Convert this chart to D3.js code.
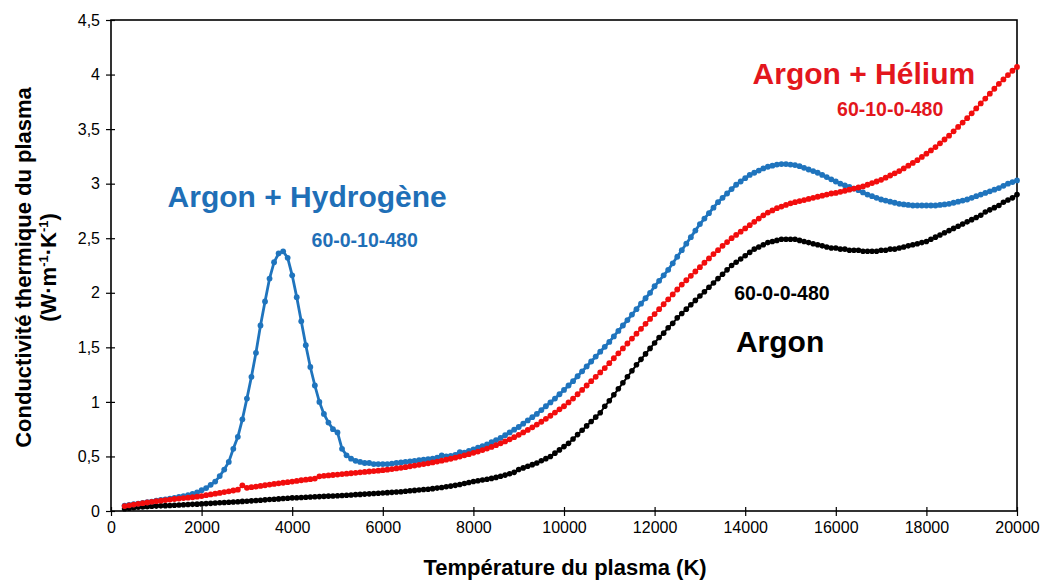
<!DOCTYPE html>
<html>
<head>
<meta charset="utf-8">
<script src="https://cdn.jsdelivr.net/npm/d3@7"></script>
<style>
  body { margin: 0; background: #fff; }
  svg text { font-family: "Liberation Sans", Arial, sans-serif; }
</style>
</head>
<body>
<svg id="chart" width="1045" height="584"></svg>
<script>
// temperature grid of the calculation (K), one point every 100 K
const tempStart = 300;
const tempStep = 100;

// Argon, 60-0-0-480
const argon = [
  0.020, 0.025, 0.030, 0.034, 0.037, 0.040, 0.043,
  0.045, 0.047, 0.049, 0.051, 0.053, 0.055, 0.057, 0.059, 0.061, 0.063,
  0.065, 0.068, 0.070, 0.073, 0.075, 0.078, 0.080, 0.083, 0.085, 0.088,
  0.090, 0.093, 0.096, 0.099, 0.102, 0.105, 0.108, 0.111, 0.114, 0.117,
  0.120, 0.122, 0.124, 0.126, 0.128, 0.130, 0.132, 0.134, 0.136, 0.138,
  0.140, 0.142, 0.145, 0.147, 0.150, 0.152, 0.155, 0.157, 0.160, 0.162,
  0.165, 0.168, 0.171, 0.174, 0.177, 0.181, 0.185, 0.189, 0.193, 0.197,
  0.200, 0.205, 0.210, 0.216, 0.222, 0.228, 0.235, 0.243, 0.252, 0.261,
  0.270, 0.277, 0.284, 0.291, 0.299, 0.308, 0.318, 0.329, 0.341, 0.354,
  0.380, 0.395, 0.410, 0.425, 0.440, 0.460, 0.480, 0.500, 0.530, 0.560,
  0.590, 0.620, 0.660, 0.700, 0.740, 0.780, 0.820, 0.860, 0.900, 0.960,
  1.010, 1.065, 1.120, 1.175, 1.230, 1.285, 1.340, 1.390, 1.440, 1.490,
  1.540, 1.590, 1.630, 1.680, 1.720, 1.770, 1.810, 1.850, 1.890, 1.930,
  1.970, 2.010, 2.050, 2.090, 2.130, 2.170, 2.210, 2.250, 2.280, 2.310,
  2.340, 2.370, 2.400, 2.420, 2.440, 2.460, 2.470, 2.480, 2.490, 2.490,
  2.490, 2.490, 2.480, 2.470, 2.460, 2.450, 2.440, 2.430, 2.420, 2.410,
  2.410, 2.400, 2.400, 2.390, 2.390, 2.390, 2.380, 2.380, 2.380, 2.380,
  2.390, 2.390, 2.400, 2.400, 2.410, 2.420, 2.430, 2.440, 2.450, 2.460,
  2.470, 2.490, 2.510, 2.530, 2.550, 2.570, 2.590, 2.610, 2.630, 2.650,
  2.670, 2.690, 2.710, 2.740, 2.760, 2.780, 2.800, 2.830, 2.850, 2.870,
  2.900
];

// Argon + Helium, 60-10-0-480
const argonHelium = [
  0.045, 0.052, 0.059, 0.066, 0.072, 0.078, 0.084,
  0.090, 0.095, 0.100, 0.105, 0.110, 0.114, 0.118, 0.122, 0.126, 0.131,
  0.137, 0.145, 0.152, 0.159, 0.166, 0.173, 0.180, 0.188, 0.195, 0.235,
  0.212, 0.218, 0.224, 0.230, 0.236, 0.242, 0.248, 0.254, 0.259, 0.264,
  0.270, 0.276, 0.282, 0.287, 0.292, 0.297, 0.318, 0.322, 0.326, 0.330,
  0.334, 0.338, 0.342, 0.346, 0.350, 0.354, 0.358, 0.362, 0.366, 0.370,
  0.374, 0.379, 0.384, 0.390, 0.396, 0.402, 0.409, 0.416, 0.423, 0.430,
  0.437, 0.445, 0.453, 0.461, 0.470, 0.479, 0.489, 0.499, 0.510, 0.521,
  0.533, 0.545, 0.558, 0.572, 0.587, 0.603, 0.620, 0.638, 0.657, 0.677,
  0.698, 0.720, 0.743, 0.767, 0.792, 0.818, 0.845, 0.873, 0.902, 0.932,
  0.960, 0.995, 1.030, 1.070, 1.110, 1.150, 1.190, 1.230, 1.270, 1.310,
  1.355, 1.400, 1.445, 1.490, 1.535, 1.580, 1.625, 1.670, 1.715, 1.760,
  1.805, 1.850, 1.895, 1.940, 1.985, 2.030, 2.075, 2.115, 2.155, 2.195,
  2.235, 2.275, 2.315, 2.355, 2.390, 2.430, 2.465, 2.500, 2.530, 2.560,
  2.590, 2.620, 2.650, 2.680, 2.710, 2.735, 2.755, 2.775, 2.790, 2.805,
  2.820, 2.830, 2.840, 2.850, 2.860, 2.870, 2.880, 2.890, 2.900, 2.910,
  2.915, 2.925, 2.935, 2.945, 2.955, 2.965, 2.975, 2.990, 3.005, 3.020,
  3.035, 3.055, 3.075, 3.095, 3.115, 3.140, 3.165, 3.190, 3.215, 3.245,
  3.275, 3.305, 3.335, 3.370, 3.405, 3.440, 3.480, 3.520, 3.560, 3.600,
  3.645, 3.690, 3.735, 3.780, 3.825, 3.870, 3.915, 3.955, 3.995, 4.035,
  4.070
];

// Argon + Hydrogen, 60-0-10-480
const argonHydrogen = [
  0.050, 0.056, 0.062, 0.068, 0.074, 0.080, 0.086,
  0.095, 0.101, 0.107, 0.114, 0.121, 0.129, 0.137, 0.146, 0.156, 0.170,
  0.190, 0.210, 0.240, 0.270, 0.320, 0.380, 0.450, 0.570, 0.680, 0.840,
  1.030, 1.230, 1.450, 1.700, 1.920, 2.130, 2.280, 2.360, 2.380, 2.320,
  2.160, 1.960, 1.740, 1.520, 1.320, 1.150, 1.000, 0.890, 0.810, 0.750,
  0.720, 0.570, 0.510, 0.480, 0.460, 0.450, 0.440, 0.440, 0.430, 0.430,
  0.430, 0.430, 0.435, 0.440, 0.445, 0.450, 0.455, 0.460, 0.465, 0.470,
  0.475, 0.480, 0.490, 0.510, 0.500, 0.505, 0.515, 0.540, 0.535, 0.550,
  0.565, 0.580, 0.595, 0.610, 0.630, 0.650, 0.670, 0.695, 0.720, 0.745,
  0.770, 0.800, 0.830, 0.860, 0.890, 0.925, 0.960, 0.995, 1.030, 1.070,
  1.110, 1.150, 1.190, 1.235, 1.280, 1.325, 1.370, 1.415, 1.460, 1.505,
  1.550, 1.600, 1.650, 1.700, 1.750, 1.800, 1.850, 1.900, 1.950, 2.000,
  2.060, 2.110, 2.160, 2.210, 2.270, 2.330, 2.390, 2.450, 2.510, 2.570,
  2.630, 2.680, 2.730, 2.780, 2.830, 2.870, 2.910, 2.950, 2.990, 3.020,
  3.050, 3.080, 3.100, 3.120, 3.140, 3.155, 3.165, 3.175, 3.180, 3.180,
  3.175, 3.170, 3.160, 3.145, 3.130, 3.115, 3.100, 3.080, 3.060, 3.040,
  3.020, 3.000, 2.985, 2.970, 2.955, 2.940, 2.920, 2.900, 2.885, 2.870,
  2.855, 2.845, 2.835, 2.825, 2.815, 2.810, 2.805, 2.800, 2.800, 2.800,
  2.800, 2.800, 2.800, 2.805, 2.810, 2.815, 2.825, 2.835, 2.845, 2.855,
  2.870, 2.885, 2.900, 2.915, 2.930, 2.945, 2.960, 2.980, 3.000, 3.015,
  3.030
];

const xTicks = [0, 2000, 4000, 6000, 8000, 10000, 12000, 14000, 16000, 18000, 20000];
const yTicks = [0, 0.5, 1, 1.5, 2, 2.5, 3, 3.5, 4, 4.5];

const width = 1045, height = 584;
const margin = { top: 20, right: 28, bottom: 73, left: 111 };
const innerW = width - margin.left - margin.right;
const innerH = height - margin.top - margin.bottom;

const frLocale = d3.formatLocale({ decimal: ",", thousands: "", grouping: [3], currency: ["", " €"] });
const fmtY = frLocale.format("~g");

const svg = d3.select("#chart");
const chart = svg.append("g")
  .attr("transform", "translate(" + margin.left + "," + margin.top + ")");

const x = d3.scaleLinear().domain([0, 20000]).range([0, innerW]);
const y = d3.scaleLinear().domain([0, 4.5]).range([innerH, 0]);

const toPoints = function(vals) {
  return vals.map((v, i) => ({ t: tempStart + i * tempStep, v: v }));
};

const series = [
  { key: "hydrogen", vals: argonHydrogen, color: "#1f74bd", lineW: 2.8, r: 2.9, line: true },
  { key: "helium", vals: argonHelium, color: "#f20d0d", lineW: 1.5, r: 2.9, line: true },
  { key: "argon", vals: argon, color: "#000000", lineW: 2, r: 2.8, line: true }
];

// frame
chart.append("rect")
  .attr("width", innerW)
  .attr("height", innerH)
  .attr("fill", "none")
  .attr("stroke", "#000")
  .attr("stroke-width", 1.6);

const line = d3.line()
  .x(d => x(d.t))
  .y(d => y(d.v));

// draw order: argon first, then hydrogen, helium on top where they touch
["argon", "hydrogen", "helium"].forEach(function(k) {
  const s = series.find(d => d.key === k);
  const pts = toPoints(s.vals);
  const g = chart.append("g").attr("class", "series-" + k);
  if (s.line) {
    g.append("path")
      .attr("d", line(pts))
      .attr("fill", "none")
      .attr("stroke", s.color)
      .attr("stroke-width", s.lineW);
  }
  g.selectAll("circle")
    .data(pts)
    .enter()
    .append("circle")
    .attr("cx", d => x(d.t))
    .attr("cy", d => y(d.v))
    .attr("r", s.r)
    .attr("fill", s.color);
});

// axes
const yAxis = chart.append("g")
  .attr("class", "yaxis")
  .call(d3.axisLeft(y).tickValues(yTicks).tickSize(5).tickPadding(6).tickFormat(fmtY));
const xAxis = chart.append("g")
  .attr("class", "xaxis")
  .attr("transform", "translate(0," + innerH + ")")
  .call(d3.axisBottom(x).tickValues(xTicks).tickSize(5).tickPadding(6).tickFormat(d3.format("d")));

chart.selectAll(".domain").remove();
yAxis.selectAll(".tick line").attr("x1", 4).attr("stroke-width", 1.2);
xAxis.selectAll(".tick line").attr("y1", -4).attr("stroke-width", 1.2);
chart.selectAll(".tick text")
  .attr("fill", "#000")
  .style("font-size", "16px");

// axis titles
svg.append("text")
  .attr("x", margin.left + innerW / 2 + 1)
  .attr("y", 575)
  .attr("text-anchor", "middle")
  .style("font-size", "22px")
  .style("font-weight", "bold")
  .text("Température du plasma (K)");

const yTitle = svg.append("text")
  .attr("transform", "translate(31," + (margin.top + innerH / 2 + 2) + ") rotate(-90)")
  .attr("text-anchor", "middle")
  .style("font-size", "22px")
  .style("font-weight", "bold");
yTitle.append("tspan").attr("x", 0).attr("y", 0).text("Conductivité thermique du plasma");
const unit = yTitle.append("tspan").attr("x", 0).attr("y", 25);
unit.append("tspan").text("(W·m");
unit.append("tspan").attr("dy", -8).style("font-size", "13px").text("-1");
unit.append("tspan").attr("dy", 8).text("·K");
unit.append("tspan").attr("dy", -8).style("font-size", "13px").text("-1");
unit.append("tspan").attr("dy", 8).text(")");

// annotations, positioned in data space
const labels = [
  { text: "Argon + Hydrogène", t: 4330, v: 2.79, size: 30, color: "#1f6fb7" },
  { text: "60-0-10-480", t: 5600, v: 2.42, size: 19.5, color: "#1f6fb7" },
  { text: "Argon + Hélium", t: 16620, v: 3.91, size: 30, color: "#e3161d" },
  { text: "60-10-0-480", t: 17200, v: 3.62, size: 19.5, color: "#e3161d" },
  { text: "60-0-0-480", t: 14810, v: 1.93, size: 19.5, color: "#000" },
  { text: "Argon", t: 14770, v: 1.46, size: 30, color: "#000" }
];
chart.selectAll(".anno")
  .data(labels)
  .enter()
  .append("text")
  .attr("class", "anno")
  .attr("x", d => x(d.t))
  .attr("y", d => y(d.v))
  .attr("text-anchor", "middle")
  .attr("fill", d => d.color)
  .style("font-size", d => d.size + "px")
  .style("font-weight", "bold")
  .text(d => d.text);
</script>
</body>
</html>
